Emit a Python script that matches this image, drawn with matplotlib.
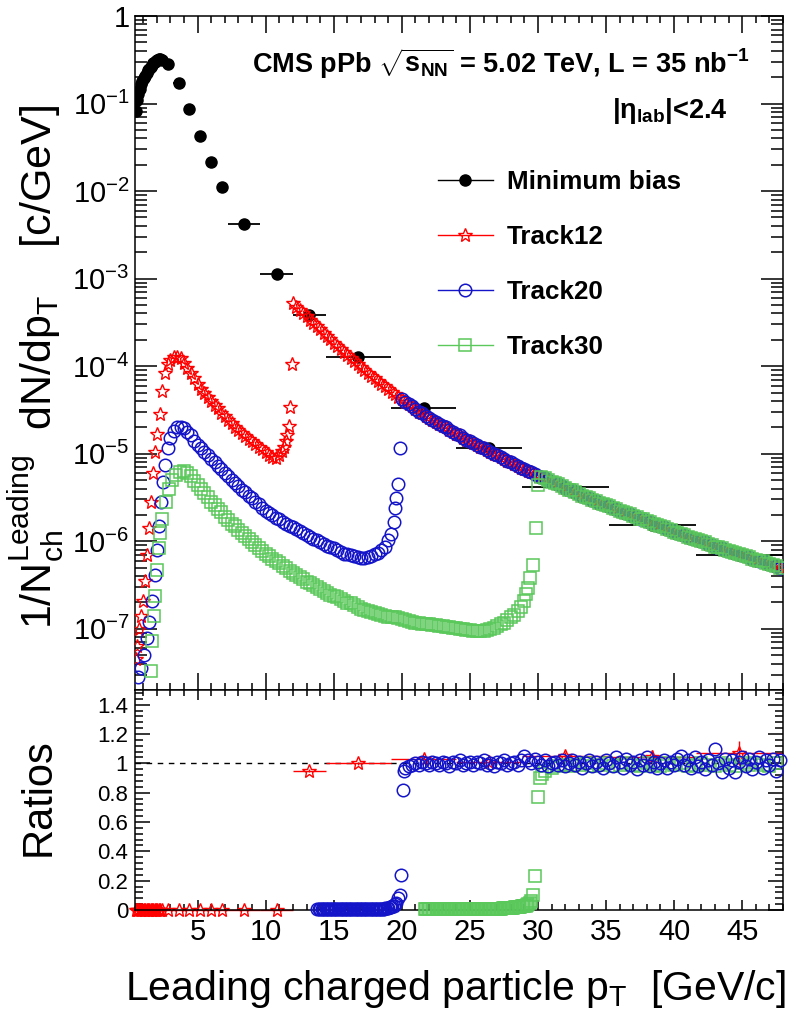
import numpy as np
import matplotlib
matplotlib.use('Agg')
import matplotlib.pyplot as plt
from matplotlib.ticker import (MultipleLocator, FixedLocator, LogLocator,
                               FuncFormatter, NullFormatter)
from matplotlib.lines import Line2D

plt.rcParams['font.family'] = ['Liberation Sans', 'DejaVu Sans']
plt.rcParams['mathtext.fontset'] = 'custom'
plt.rcParams['mathtext.rm'] = 'Liberation Sans'
plt.rcParams['mathtext.it'] = 'Liberation Sans:italic'
plt.rcParams['mathtext.bf'] = 'Liberation Sans:bold'
plt.rcParams['mathtext.default'] = 'regular'

# ---- minimum bias spectrum (bin centre, half width, log10 value) ----
mb_pt = [0.45, 0.55, 0.65, 0.75, 0.85, 0.95, 1.05, 1.15, 1.25, 1.35,
         1.45, 1.55, 1.65, 1.75, 1.85, 1.95, 2.05, 2.15, 2.25, 2.35,
         2.8, 3.6, 4.4, 5.2, 6.0, 6.8, 8.4, 10.8, 13.2, 16.8,
         21.6, 26.4, 32.0, 38.4, 44.8]
mb_hw = [0.05] * 20 + [0.4, 0.4, 0.4, 0.4, 0.4, 0.4, 1.2, 1.2, 1.2, 2.4,
                       2.4, 2.4, 3.2, 3.2, 3.2]
mb_log = [-1.09, -0.96, -0.89, -0.83, -0.78, -0.74, -0.71, -0.68, -0.65, -0.62,
          -0.60, -0.58, -0.56, -0.54, -0.52, -0.51, -0.50, -0.49, -0.49, -0.50,
          -0.55, -0.76, -1.06, -1.375, -1.67, -1.95, -2.375, -2.95, -3.41, -3.90,
          -4.48, -4.93, -5.375, -5.81, -6.16]

# ---- common high-pT spectrum seen by all triggers above their threshold ----
hi_pt = [12.00, 12.25, 12.50, 12.75, 13.00, 13.25, 13.50, 13.75,
         14.00, 14.25, 14.50, 14.75, 15.00, 15.25, 15.50, 15.75,
         16.00, 16.25, 16.50, 16.75, 17.00, 17.25, 17.50, 17.75,
         18.00, 18.25, 18.50, 18.75, 19.00, 19.25, 19.50, 19.75,
         20.00, 20.25, 20.50, 20.75, 21.00, 21.25, 21.50, 21.75,
         22.00, 22.25, 22.50, 22.75, 23.00, 23.25, 23.50, 23.75,
         24.00, 24.25, 24.50, 24.75, 25.00, 25.25, 25.50, 25.75,
         26.00, 26.25, 26.50, 26.75, 27.00, 27.25, 27.50, 27.75,
         28.00, 28.25, 28.50, 28.75, 29.00, 29.25, 29.50, 29.75,
         30.00, 30.25, 30.50, 30.75, 31.00, 31.25, 31.50, 31.75,
         32.00, 32.25, 32.50, 32.75, 33.00, 33.25, 33.50, 33.75,
         34.00, 34.25, 34.50, 34.75, 35.00, 35.25, 35.50, 35.75,
         36.00, 36.25, 36.50, 36.75, 37.00, 37.25, 37.50, 37.75,
         38.00, 38.25, 38.50, 38.75, 39.00, 39.25, 39.50, 39.75,
         40.00, 40.25, 40.50, 40.75, 41.00, 41.25, 41.50, 41.75,
         42.00, 42.25, 42.50, 42.75, 43.00, 43.25, 43.50, 43.75,
         44.00, 44.25, 44.50, 44.75, 45.00, 45.25, 45.50, 45.75,
         46.00, 46.25, 46.50, 46.75, 47.00, 47.25, 47.50, 47.75]
hi_log = [-3.28, -3.32, -3.36, -3.39, -3.43, -3.47, -3.51, -3.54,
          -3.58, -3.62, -3.66, -3.69, -3.73, -3.77, -3.80, -3.84,
          -3.87, -3.91, -3.94, -3.98, -4.01, -4.04, -4.08, -4.11,
          -4.14, -4.17, -4.20, -4.23, -4.26, -4.29, -4.32, -4.35,
          -4.38, -4.41, -4.43, -4.46, -4.49, -4.52, -4.54, -4.57,
          -4.59, -4.61, -4.64, -4.66, -4.68, -4.70, -4.73, -4.75,
          -4.77, -4.79, -4.82, -4.84, -4.86, -4.88, -4.90, -4.92,
          -4.94, -4.96, -4.98, -5.00, -5.02, -5.04, -5.06, -5.08,
          -5.10, -5.12, -5.14, -5.16, -5.18, -5.20, -5.21, -5.23,
          -5.25, -5.27, -5.28, -5.30, -5.32, -5.34, -5.35, -5.37,
          -5.39, -5.41, -5.42, -5.44, -5.46, -5.48, -5.49, -5.51,
          -5.53, -5.54, -5.56, -5.57, -5.59, -5.60, -5.62, -5.63,
          -5.65, -5.66, -5.68, -5.69, -5.71, -5.72, -5.74, -5.75,
          -5.77, -5.78, -5.80, -5.81, -5.83, -5.84, -5.86, -5.87,
          -5.89, -5.90, -5.92, -5.93, -5.95, -5.96, -5.97, -5.99,
          -6.00, -6.01, -6.03, -6.04, -6.06, -6.07, -6.08, -6.10,
          -6.11, -6.12, -6.13, -6.15, -6.16, -6.17, -6.18, -6.20,
          -6.21, -6.22, -6.23, -6.25, -6.26, -6.27, -6.28, -6.30]

# ---- Track12 below its plateau ----
t12_pt = [0.45, 0.55, 0.70, 0.85, 1.00, 1.15, 1.30, 1.45, 1.60, 1.75,
          1.90, 2.05, 2.20, 2.40, 2.60, 2.80, 3.00, 3.25, 3.50, 3.75,
          4.00, 4.25, 4.50, 4.75, 5.00, 5.25, 5.50, 5.75, 6.00, 6.25,
          6.50, 6.75, 7.00, 7.25, 7.50, 7.75, 8.00, 8.25, 8.50, 8.75,
          9.00, 9.25, 9.50, 9.75, 10.00, 10.25, 10.50, 10.75, 11.00, 11.20,
          11.35, 11.47, 11.60, 11.71, 11.80, 11.90]
t12_log = [-7.35, -7.20, -7.00, -6.85, -6.68, -6.45, -6.16, -5.85, -5.55, -5.22,
           -4.98, -4.78, -4.55, -4.28, -4.08, -3.98, -3.93, -3.90, -3.89, -3.91,
           -3.96, -4.02, -4.08, -4.14, -4.20, -4.26, -4.31, -4.35, -4.40, -4.44,
           -4.48, -4.53, -4.57, -4.61, -4.65, -4.69, -4.73, -4.76, -4.80, -4.83,
           -4.86, -4.89, -4.92, -4.95, -4.98, -5.01, -5.04, -5.05, -5.02, -4.97,
           -4.92, -4.86, -4.79, -4.68, -4.47, -3.98]

# ---- Track20 below its plateau ----
t20_pt = [0.65, 0.85, 1.05, 1.25, 1.45, 1.65, 1.85, 2.00, 2.15, 2.30,
          2.45, 2.60, 2.80, 3.00, 3.25, 3.50, 3.75, 4.00, 4.25, 4.50,
          4.75, 5.00, 5.25, 5.50, 5.75, 6.00, 6.25, 6.50, 6.75, 7.00,
          7.25, 7.50, 7.75, 8.00, 8.25, 8.50, 8.75, 9.00, 9.25, 9.50,
          9.75, 10.00, 10.25, 10.50, 10.75, 11.00, 11.25, 11.50, 11.75, 12.00,
          12.25, 12.50, 12.75, 13.00, 13.25, 13.50, 13.75, 14.00, 14.25, 14.50,
          14.75, 15.00, 15.25, 15.50, 15.75, 16.00, 16.25, 16.50, 16.75, 17.00,
          17.25, 17.50, 17.75, 18.00, 18.25, 18.50, 18.75, 19.00, 19.20, 19.40,
          19.50, 19.60, 19.75, 19.90]
t20_log = [-7.55, -7.45, -7.30, -7.10, -6.92, -6.68, -6.38, -6.10, -5.82, -5.55,
           -5.32, -5.13, -4.94, -4.82, -4.74, -4.70, -4.69, -4.71, -4.75, -4.79,
           -4.85, -4.90, -4.94, -4.98, -5.02, -5.06, -5.10, -5.14, -5.18, -5.22,
           -5.26, -5.30, -5.34, -5.37, -5.41, -5.44, -5.48, -5.51, -5.55, -5.58,
           -5.62, -5.65, -5.68, -5.70, -5.73, -5.75, -5.78, -5.80, -5.82, -5.84,
           -5.86, -5.88, -5.91, -5.93, -5.95, -5.97, -5.99, -6.01, -6.03, -6.05,
           -6.07, -6.08, -6.10, -6.12, -6.14, -6.15, -6.16, -6.17, -6.18, -6.19,
           -6.19, -6.18, -6.17, -6.15, -6.13, -6.10, -6.06, -5.99, -5.92, -5.78,
           -5.62, -5.51, -5.35, -4.94]

# ---- Track30 below its plateau ----
t30_pt = [1.55, 1.67, 1.78, 1.90, 2.02, 2.14, 2.27, 2.40, 2.65, 2.90,
          3.15, 3.40, 3.70, 4.00, 4.25, 4.50, 4.75, 5.00, 5.25, 5.50,
          5.75, 6.00, 6.25, 6.50, 6.75, 7.00, 7.25, 7.50, 7.75, 8.00,
          8.25, 8.50, 8.75, 9.00, 9.25, 9.50, 9.75, 10.00, 10.25, 10.50,
          10.75, 11.00, 11.25, 11.50, 11.75, 12.00, 12.25, 12.50, 12.75, 13.00,
          13.25, 13.50, 13.75, 14.00, 14.25, 14.50, 14.75, 15.00, 15.25, 15.50,
          15.75, 16.00, 16.25, 16.50, 16.75, 17.00, 17.25, 17.50, 17.75, 18.00,
          18.25, 18.50, 18.75, 19.00, 19.25, 19.50, 19.75, 20.00, 20.25, 20.50,
          20.75, 21.00, 21.25, 21.50, 21.75, 22.00, 22.25, 22.50, 22.75, 23.00,
          23.25, 23.50, 23.75, 24.00, 24.25, 24.50, 24.75, 25.00, 25.25, 25.50,
          25.75, 26.00, 26.25, 26.50, 26.75, 27.00, 27.25, 27.50, 27.75, 28.00,
          28.25, 28.50, 28.75, 29.00, 29.15, 29.30, 29.45, 29.60, 29.85, 30.00]
t30_log = [-7.48, -7.14, -6.85, -6.62, -6.33, -6.08, -5.90, -5.74, -5.55, -5.40,
           -5.30, -5.24, -5.21, -5.20, -5.22, -5.26, -5.31, -5.36, -5.40, -5.45,
           -5.50, -5.55, -5.59, -5.63, -5.67, -5.72, -5.76, -5.80, -5.83, -5.87,
           -5.90, -5.94, -5.97, -6.01, -6.04, -6.08, -6.11, -6.14, -6.17, -6.20,
           -6.23, -6.25, -6.28, -6.31, -6.34, -6.36, -6.39, -6.41, -6.43, -6.46,
           -6.48, -6.50, -6.52, -6.54, -6.57, -6.59, -6.61, -6.63, -6.64, -6.66,
           -6.68, -6.70, -6.71, -6.73, -6.75, -6.77, -6.78, -6.80, -6.81, -6.82,
           -6.83, -6.84, -6.85, -6.86, -6.87, -6.87, -6.88, -6.89, -6.90, -6.91,
           -6.92, -6.93, -6.93, -6.94, -6.95, -6.95, -6.96, -6.96, -6.97, -6.97,
           -6.98, -6.98, -6.99, -6.99, -7.00, -7.00, -7.01, -7.01, -7.02, -7.02,
           -7.02, -7.02, -7.01, -7.00, -6.99, -6.97, -6.95, -6.93, -6.90, -6.87,
           -6.84, -6.80, -6.75, -6.68, -6.60, -6.53, -6.42, -6.27, -5.85, -5.36]

# ---- ratios ----
# Track12 / minimum bias, in minimum bias bins
r12_val = [0.0] * 28 + [0.95, 1.00, 1.03, 1.01, 1.05, 1.04, 1.07]
r12_err = [0.0] * 28 + [0.01, 0.01, 0.01, 0.015, 0.03, 0.05, 0.08]

# Track20 / Track12
r20_pt = [13.8, 13.9, 14.0, 14.1, 14.2, 14.3, 14.4, 14.5, 14.6, 14.7,
          14.8, 14.9, 15.0, 15.1, 15.2, 15.3, 15.4, 15.5, 15.6, 15.7,
          15.8, 15.9, 16.0, 16.1, 16.2, 16.3, 16.4, 16.5, 16.6, 16.7,
          16.8, 16.9, 17.0, 17.1, 17.2, 17.3, 17.4, 17.5, 17.6, 17.7,
          17.8, 17.9, 18.0, 18.1, 18.2, 18.3, 18.4, 18.5, 18.6, 18.7,
          18.8, 18.9, 19.0, 19.1, 19.2, 19.3, 19.4, 19.5, 19.6,
          19.70, 19.85, 19.95, 20.05, 20.15,
          20.25, 20.50, 20.75, 21.00, 21.25, 21.50, 21.75, 22.00,
          22.25, 22.50, 22.75, 23.00, 23.25, 23.50, 23.75, 24.00,
          24.25, 24.50, 24.75, 25.00, 25.25, 25.50, 25.75, 26.00,
          26.25, 26.50, 26.75, 27.00, 27.25, 27.50, 27.75, 28.00,
          28.25, 28.50, 28.75, 29.00, 29.25, 29.50, 29.75, 30.00,
          30.25, 30.50, 30.75, 31.00, 31.25, 31.50, 31.75, 32.00,
          32.25, 32.50, 32.75, 33.00, 33.25, 33.50, 33.75, 34.00,
          34.25, 34.50, 34.75, 35.00, 35.25, 35.50, 35.75, 36.00,
          36.25, 36.50, 36.75, 37.00, 37.25, 37.50, 37.75, 38.00,
          38.25, 38.50, 38.75, 39.00, 39.25, 39.50, 39.75, 40.00,
          40.25, 40.50, 40.75, 41.00, 41.25, 41.50, 41.75, 42.00,
          42.25, 42.50, 42.75, 43.00, 43.25, 43.50, 43.75, 44.00,
          44.25, 44.50, 44.75, 45.00, 45.25, 45.50, 45.75, 46.00,
          46.25, 46.50, 46.75, 47.00, 47.25, 47.50, 47.75]
r20_val = [0.01, 0.01, 0.01, 0.01, 0.01, 0.01, 0.01, 0.01, 0.01, 0.01,
           0.01, 0.01, 0.01, 0.01, 0.01, 0.01, 0.01, 0.01, 0.01, 0.01,
           0.01, 0.01, 0.01, 0.01, 0.01, 0.01, 0.01, 0.01, 0.01, 0.01,
           0.01, 0.01, 0.01, 0.01, 0.01, 0.01, 0.01, 0.01, 0.01, 0.01,
           0.01, 0.01, 0.01, 0.01, 0.01, 0.01, 0.01, 0.01, 0.01, 0.01,
           0.012, 0.014, 0.016, 0.018, 0.02, 0.025, 0.03, 0.04, 0.05,
           0.08, 0.10, 0.24, 0.82, 0.95,
           0.97, 0.98, 0.99, 1.00, 0.99, 1.01, 1.00, 0.99,
           1.01, 1.00, 0.99, 1.01, 1.00, 0.98, 1.01, 1.00,
           1.02, 0.99, 1.00, 1.01, 0.99, 1.01, 1.00, 1.02,
           0.99, 1.00, 0.98, 1.01, 1.00, 1.02, 0.99, 1.00,
           1.01, 0.99, 1.02, 1.05, 1.02, 1.00, 1.03, 1.01,
           0.99, 1.02, 0.98, 1.00, 1.01, 0.99, 1.02, 0.98,
           1.00, 1.02, 0.99, 1.01, 0.97, 1.00, 1.02, 0.98,
           1.01, 0.99, 0.97, 1.02, 1.00, 0.98, 1.04, 1.01,
           0.97, 1.03, 0.99, 1.01, 0.96, 1.02, 0.99, 1.04,
           0.98, 1.01, 0.97, 1.00, 1.02, 0.97, 1.01, 0.99,
           1.03, 1.05, 0.99, 1.02, 0.97, 1.04, 0.98, 1.01,
           0.96, 1.02, 0.99, 1.10, 1.00, 0.94, 1.03, 0.97,
           1.02, 0.94, 1.01, 1.04, 0.98, 1.03, 0.96, 1.01,
           1.04, 0.97, 1.02, 0.99, 1.03, 0.95, 1.02]

# Track30 / Track20
r30_pt = [21.7, 21.8, 21.9, 22.0, 22.1, 22.2, 22.3, 22.4, 22.5, 22.6,
          22.7, 22.8, 22.9, 23.0, 23.1, 23.2, 23.3, 23.4, 23.5, 23.6,
          23.7, 23.8, 23.9, 24.0, 24.1, 24.2, 24.3, 24.4, 24.5, 24.6,
          24.7, 24.8, 24.9, 25.0, 25.1, 25.2, 25.3, 25.4, 25.5, 25.6,
          25.7, 25.8, 25.9, 26.0, 26.1, 26.2, 26.3, 26.4, 26.5, 26.6,
          26.7, 26.8, 26.9, 27.0, 27.1, 27.2, 27.3, 27.4, 27.5, 27.6,
          27.7, 27.8, 27.9, 28.0, 28.1, 28.2, 28.3, 28.4, 28.5, 28.6,
          28.7, 28.8, 28.9, 29.0, 29.1, 29.2,
          29.30, 29.40, 29.50, 29.65, 29.80, 30.00, 30.15, 30.30,
          30.5, 31.0, 31.5, 32.0, 32.5, 33.0, 33.5, 34.0, 34.5, 35.0,
          35.5, 36.0, 36.5, 37.0, 37.5, 38.0, 38.5, 39.0, 39.5, 40.0,
          40.5, 41.0, 41.5, 42.0, 42.5, 43.0, 43.5, 44.0, 44.5, 45.0,
          45.5, 46.0, 46.5, 47.0, 47.5]
r30_val = [0.005, 0.005, 0.005, 0.005, 0.005, 0.005, 0.005, 0.005, 0.005, 0.005,
           0.005, 0.005, 0.005, 0.005, 0.005, 0.005, 0.005, 0.005, 0.005, 0.005,
           0.005, 0.005, 0.005, 0.005, 0.005, 0.005, 0.005, 0.005, 0.005, 0.005,
           0.005, 0.005, 0.005, 0.005, 0.005, 0.005, 0.005, 0.005, 0.005, 0.005,
           0.006, 0.006, 0.006, 0.006, 0.006, 0.006, 0.007, 0.007, 0.007, 0.007,
           0.008, 0.008, 0.008, 0.009, 0.009, 0.010, 0.010, 0.011, 0.011, 0.012,
           0.012, 0.013, 0.014, 0.015, 0.016, 0.017, 0.018, 0.019, 0.020, 0.021,
           0.022, 0.024, 0.026, 0.028, 0.030, 0.033,
           0.038, 0.045, 0.06, 0.10, 0.23, 0.77, 0.90, 0.93,
           0.95, 0.97, 0.98, 0.99, 0.98, 0.99, 1.00, 0.98, 0.99, 1.00,
           0.98, 0.99, 1.00, 0.99, 0.98, 1.00, 0.99, 0.98, 1.00, 0.99,
           1.00, 0.98, 0.99, 1.00, 0.99, 0.98, 1.00, 0.99, 0.98, 1.00,
           0.99, 1.00, 0.99, 0.98, 1.00]

# ratio axis ticks
ratio_major = [0.0, 0.2, 0.4, 0.6, 0.8, 1.0, 1.2, 1.4]
ratio_labels = ['0', '0.2', '0.4', '0.6', '0.8', '1', '1.2', '1.4']
ratio_minor = [0.04, 0.08, 0.12, 0.16, 0.24, 0.28, 0.32, 0.36, 0.44, 0.48,
               0.52, 0.56, 0.64, 0.68, 0.72, 0.76, 0.84, 0.88, 0.92, 0.96,
               1.04, 1.08, 1.12, 1.16, 1.24, 1.28, 1.32, 1.36, 1.44, 1.48]

RED = '#ff0000'
BLUE = '#1414c8'
GREEN = '#5ac85a'

W, H = 796, 1032
fig = plt.figure(figsize=(W / 100, H / 100), dpi=100)
ax1 = fig.add_axes([135 / W, 1 - 690 / H, 648 / W, 674 / H])
ax2 = fig.add_axes([135 / W, 1 - 910 / H, 648 / W, 220 / H])

mb_y = 10 ** np.array(mb_log)
hi_y = 10 ** np.array(hi_log)
hi_pt = np.array(hi_pt)

# spectra: minimum bias first, then the triggers on top
ax1.errorbar(mb_pt, mb_y, xerr=mb_hw, fmt='o', color='k', ms=8, elinewidth=1.3,
             capsize=0, zorder=2)

t12_x = np.concatenate([t12_pt, hi_pt])
t12_y = np.concatenate([10 ** np.array(t12_log), hi_y])
ax1.plot(t12_x, t12_y, ls='none', marker='*', ms=10.5, mfc='none', mec=RED,
         mew=1.0, zorder=3)

m20 = hi_pt >= 20.0
t20_x = np.concatenate([t20_pt, hi_pt[m20]])
t20_y = np.concatenate([10 ** np.array(t20_log), hi_y[m20]])
ax1.plot(t20_x, t20_y, ls='none', marker='o', ms=9, mfc='none', mec=BLUE,
         mew=1.1, zorder=4)

m30 = hi_pt >= 30.25
t30_x = np.concatenate([t30_pt, hi_pt[m30]])
t30_y = np.concatenate([10 ** np.array(t30_log), hi_y[m30]])
ax1.plot(t30_x, t30_y, ls='none', marker='s', ms=8.5, mfc='none', mec=GREEN,
         mew=1.1, zorder=5)

ax1.set_yscale('log')
ax1.set_xlim(0.4, 48)
ax1.set_ylim(2e-8, 1)
ax1.xaxis.set_major_locator(MultipleLocator(5))
ax1.xaxis.set_minor_locator(MultipleLocator(1))
ax1.yaxis.set_major_locator(LogLocator(base=10, numticks=20))
ax1.yaxis.set_minor_locator(LogLocator(base=10, subs=np.arange(2, 10), numticks=20))
ax1.yaxis.set_minor_formatter(NullFormatter())
ax1.yaxis.set_major_formatter(FuncFormatter(
    lambda v, p: '1' if abs(v - 1) < 1e-9 else r'$10^{%d}$' % round(np.log10(v))))
ax1.tick_params(which='both', direction='in', top=True, right=True,
                labelbottom=False, width=1.1)
ax1.tick_params(axis='x', which='major', length=12)
ax1.tick_params(axis='x', which='minor', length=5)
ax1.tick_params(axis='y', which='major', length=16, labelsize=21, pad=4)
ax1.tick_params(axis='y', which='minor', length=8.5)
for s in ax1.spines.values():
    s.set_linewidth(1.1)

# legend
handles = [
    Line2D([], [], color='k', lw=1.0, marker='o', ms=8),
    Line2D([], [], color=RED, lw=1.0, marker='*', ms=10.5, mfc='none', mew=1.0),
    Line2D([], [], color=BLUE, lw=1.0, marker='o', ms=9, mfc='none', mew=1.1),
    Line2D([], [], color=GREEN, lw=1.0, marker='s', ms=8.5, mfc='none', mew=1.1),
]
labels = ['Minimum bias', 'Track12', 'Track20', 'Track30']
ax1.legend(handles, labels, loc='upper left', bbox_to_anchor=(0.4676, 0.772),
           frameon=False, prop={'weight': 'bold', 'size': 18.7}, handlelength=2.1,
           handletextpad=0.55, labelspacing=1.2, borderpad=0, borderaxespad=0,
           numpoints=1)

fig.text(750 / W, 1 - 73 / H,
         r'CMS pPb $\sqrt{\mathbf{s}_{\mathbf{NN}}}$ = 5.02 TeV, L = 35 nb$^{\mathbf{-1}}$',
         ha='right', va='baseline', fontsize=19.5, weight='bold')
fig.text(728 / W, 1 - 118 / H, r'$|\eta_{\mathbf{lab}}|$<2.4',
         ha='right', va='baseline', fontsize=19.5, weight='bold')

# ratio panel
ax2.axhline(1.0, color='k', lw=1.0, ls=(0, (4, 4)), zorder=1)
ax2.errorbar(mb_pt, r12_val, xerr=mb_hw, yerr=r12_err, fmt='*', ms=10.5,
             mfc='none', mec=RED, mew=1.0, color=RED, elinewidth=1.0, capsize=0,
             zorder=2, clip_on=False)
ax2.plot(r30_pt, r30_val, ls='none', marker='s', ms=8.5, mfc='none', mec=GREEN,
         mew=1.1, zorder=3, clip_on=False)
ax2.plot(r20_pt, r20_val, ls='none', marker='o', ms=9, mfc='none', mec=BLUE,
         mew=1.1, zorder=4, clip_on=False)

ax2.set_xlim(0.4, 48)
ax2.set_ylim(0, 1.5)
ax2.xaxis.set_major_locator(MultipleLocator(5))
ax2.xaxis.set_minor_locator(MultipleLocator(1))
ax2.set_yticks(ratio_major)
ax2.set_yticklabels(ratio_labels)
ax2.yaxis.set_minor_locator(FixedLocator(ratio_minor))
ax2.yaxis.set_minor_formatter(NullFormatter())
ax2.tick_params(which='both', direction='in', top=True, right=True, width=1.1)
ax2.tick_params(axis='x', which='major', length=7, labelsize=21, pad=6)
ax2.tick_params(axis='x', which='minor', length=4)
ax2.tick_params(axis='y', which='major', length=11, labelsize=16, pad=5)
ax2.tick_params(axis='y', which='minor', length=6)
for s in ax2.spines.values():
    s.set_linewidth(1.1)

fig.text(36 / W, 1 - 367 / H, r'1/$N_{ch}^{Leading}$  dN/d$p_{T}$    [c/GeV]',
         rotation=90, ha='center', va='center', fontsize=31)
fig.text(39 / W, 1 - 797 / H, 'Ratios', rotation=90, ha='center', va='center',
         fontsize=30)
fig.text(786 / W, 1 - 1000 / H, r'Leading charged particle $p_{T}$  [GeV/c]',
         ha='right', va='baseline', fontsize=29.5)

fig.savefig('out.png', dpi=100)
